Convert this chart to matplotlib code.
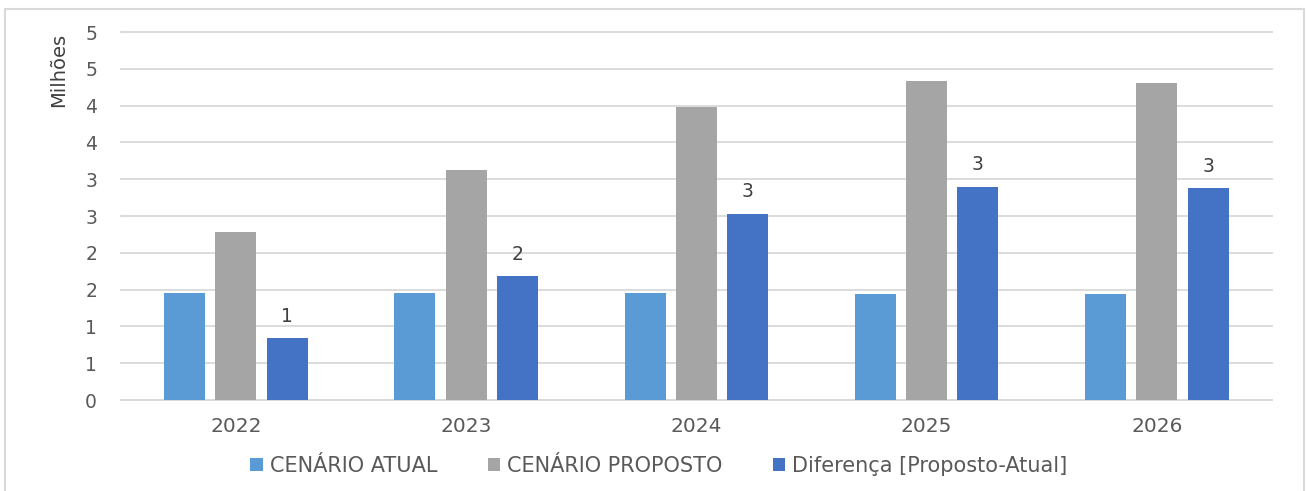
import math
import matplotlib
matplotlib.use('Agg')
import matplotlib.pyplot as plt
from matplotlib.patches import Rectangle, Patch
from matplotlib.ticker import FuncFormatter, MultipleLocator

# data (millions)
years = ['2022', '2023', '2024', '2025', '2026']
atual = [1.45, 1.45, 1.45, 1.44, 1.44]
proposto = [2.28, 3.12, 3.98, 4.33, 4.31]
diferenca = [0.84, 1.68, 2.53, 2.90, 2.88]
diff_labels = ['1', '2', '3', '3', '3']
series_names = ['CENÁRIO ATUAL', 'CENÁRIO PROPOSTO', 'Diferença [Proposto-Atual]']

BLUE_LIGHT = '#5B9BD5'
GRAY = '#A5A5A5'
BLUE_DARK = '#4472C4'
TEXT = '#595959'
GRID = '#D9D9D9'

plt.rcParams['font.family'] = ['DejaVu Sans']

fig = plt.figure(figsize=(13.06, 4.91), dpi=100)
ax = fig.add_axes([0.0924, 0.1853, 0.974 - 0.0924, 0.9348 - 0.1853])

x = list(range(len(years)))
width = 0.178
step = 0.223
colors = [BLUE_LIGHT, GRAY, BLUE_DARK]
for i, (vals, c) in enumerate(zip([atual, proposto, diferenca], colors)):
    pos = [xi + (i - 1) * step for xi in x]
    bars = ax.bar(pos, vals, width=width, color=c, zorder=3)
    if i == 2:
        for b, lab in zip(bars, diff_labels):
            ax.annotate(lab, (b.get_x() + b.get_width() / 2, b.get_height()),
                        xytext=(0, 9), textcoords='offset points',
                        ha='center', va='bottom', fontsize=13.5, color='#404040')

ax.set_xlim(-0.5, len(years) - 0.5)
ax.set_ylim(0, 5)
ax.yaxis.set_major_locator(MultipleLocator(0.5))
ax.yaxis.set_major_formatter(FuncFormatter(lambda v, p: str(int(math.floor(v + 0.5 + 1e-9)))))
ax.set_xticks(x)
ax.set_xticklabels(years)
ax.grid(axis='y', color=GRID, linewidth=1.3, zorder=0)
for gl in ax.get_ygridlines():
    gl.set_clip_on(False)
ax.set_axisbelow(True)
for s in ['top', 'right', 'left']:
    ax.spines[s].set_visible(False)
ax.spines['bottom'].set_color(GRID)
ax.spines['bottom'].set_linewidth(1.3)
ax.tick_params(axis='both', length=0, labelsize=13.5, labelcolor=TEXT)
ax.tick_params(axis='x', labelsize=14.5)
ax.tick_params(axis='y', pad=17)
ax.tick_params(axis='x', pad=12)

fig.text(58.5 / 1306, 1 - 70 / 491, 'Milhões', rotation=90, ha='center', va='center',
         fontsize=14, color='#404040')

handles = [Patch(facecolor=c, edgecolor='none') for c in colors]
fig.legend(handles, series_names, loc='center', bbox_to_anchor=(659 / 1306, 1 - 466 / 491),
           ncol=3, frameon=False, fontsize=15, labelcolor=TEXT,
           handlelength=0.6, handleheight=0.6, handletextpad=0.35, columnspacing=2.4)

# outer chart border
fig.patches.append(Rectangle((5 / 1306, -0.05), 1299 / 1306, 1 - 9 / 491 + 0.05,
                             transform=fig.transFigure, fill=False,
                             edgecolor=GRID, linewidth=1.5))

fig.savefig('out.png', dpi=100)
